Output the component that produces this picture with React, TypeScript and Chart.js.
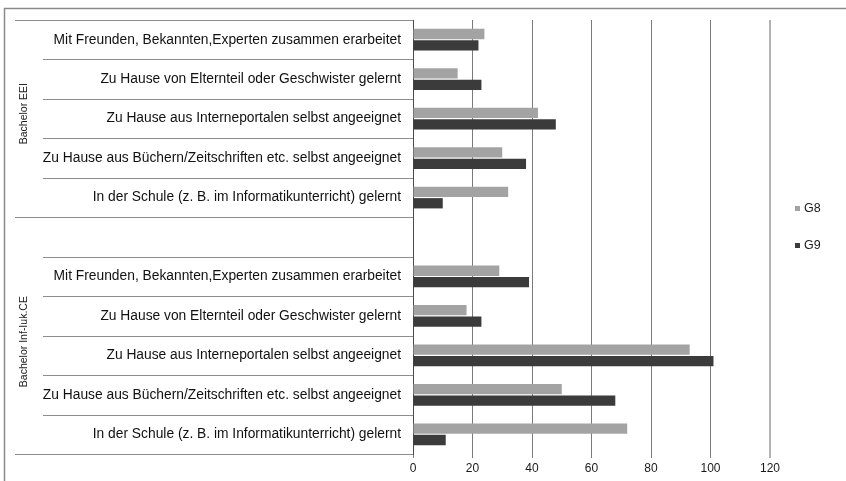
import { useEffect, useRef } from "react";
import { Chart, registerables } from "chart.js";

Chart.register(...registerables);

// Answer categories (same order in both study programmes)
const categories = [
  "Mit Freunden, Bekannten,Experten zusammen erarbeitet",
  "Zu Hause von Elternteil oder Geschwister gelernt",
  "Zu Hause aus Interneportalen selbst angeeignet",
  "Zu Hause aus Büchern/Zeitschriften etc. selbst angeeignet",
  "In der Schule (z. B. im Informatikunterricht) gelernt",
];

const groupNames = ["Bachelor EEI", "Bachelor Inf-Iuk.CE"];
const seriesNames = ["G8", "G9"];

// Counts per category, Bachelor EEI
const g8EEI = [24, 15, 42, 30, 32];
const g9EEI = [22, 23, 48, 38, 10];

// Counts per category, Bachelor Inf-Iuk.CE
const g8Inf = [29, 18, 93, 50, 72];
const g9Inf = [39, 23, 101, 68, 11];

const xTicks = [0, 20, 40, 60, 80, 100, 120];

const seriesColors = ["#a3a3a3", "#3b3b3b"];
const FONT = "'Liberation Sans', Arial, sans-serif";

// Row labels: first group, one spacer row, then the second group
const rowLabels = [...categories, "", ...categories];
const g8Rows = [...g8EEI, null, ...g8Inf];
const g9Rows = [...g9EEI, null, ...g9Inf];

// Row index ranges of the two groups (the spacer row belongs to the second one)
const groupRanges = [
  { name: groupNames[0], from: 0, to: categories.length - 1 },
  { name: groupNames[1], from: categories.length, to: rowLabels.length - 1 },
];

// Outer frame of the figure
const framePlugin = {
  id: "frame",
  beforeDraw(chart: any) {
    const { ctx, width, height } = chart;
    ctx.save();
    ctx.strokeStyle = "#8a8a8a";
    ctx.lineWidth = 1.5;
    ctx.beginPath();
    ctx.moveTo(4.5, height);
    ctx.lineTo(4.5, 8.5);
    ctx.lineTo(width, 8.5);
    ctx.stroke();
    ctx.restore();
  },
};

// Two-level category axis: separator lines and rotated group names
const groupAxisPlugin = {
  id: "groupAxis",
  afterDraw(chart: any, _args: any, opts: any) {
    const { ctx, chartArea } = chart;
    const y = chart.scales.y;
    const step = y.getPixelForValue(1) - y.getPixelForValue(0);
    const edge = (i: number) => y.getPixelForValue(i) - step / 2;
    const axisX = chartArea.left;

    const long = new Set<number>();
    groupRanges.forEach((g) => {
      long.add(g.from);
      long.add(g.to + 1);
    });

    ctx.save();
    ctx.strokeStyle = "#8c8c8c";
    ctx.lineWidth = 1;
    for (let i = 0; i <= rowLabels.length; i++) {
      const py = Math.round(edge(i)) + 0.5;
      const startX = long.has(i) ? opts.groupLineX : opts.tickLineX;
      ctx.beginPath();
      ctx.moveTo(startX, py);
      ctx.lineTo(axisX, py);
      ctx.stroke();
    }

    ctx.fillStyle = "#1a1a1a";
    ctx.font = `${opts.fontSize}px ${FONT}`;
    ctx.textAlign = "center";
    ctx.textBaseline = "middle";
    groupRanges.forEach((g, k) => {
      const cy = (edge(g.from) + edge(g.to + 1)) / 2 + (opts.labelShift[k] || 0);
      ctx.save();
      ctx.translate(opts.groupLabelX, cy);
      ctx.rotate(-Math.PI / 2);
      ctx.fillText(g.name, 0, 0);
      ctx.restore();
    });
    ctx.restore();
  },
};

// Legend to the right of the plot area
const sideLegendPlugin = {
  id: "sideLegend",
  afterDraw(chart: any, _args: any, opts: any) {
    const { ctx, chartArea } = chart;
    const datasets = chart.data.datasets;
    const midY = (chartArea.top + chartArea.bottom) / 2 + opts.offsetY;
    const x = chartArea.right + opts.offsetX;
    const total = (datasets.length - 1) * opts.spacing;
    ctx.save();
    ctx.font = `${opts.fontSize}px ${FONT}`;
    ctx.textAlign = "left";
    ctx.textBaseline = "middle";
    datasets.forEach((ds: any, i: number) => {
      const cy = midY - total / 2 + i * opts.spacing;
      ctx.fillStyle = ds.backgroundColor;
      ctx.fillRect(x, Math.round(cy - opts.box / 2), opts.box, opts.box);
      ctx.fillStyle = "#1a1a1a";
      ctx.fillText(ds.label, x + opts.box + 4, cy + 0.5);
    });
    ctx.restore();
  },
};

export default function App() {
  const canvasRef = useRef<HTMLCanvasElement | null>(null);

  useEffect(() => {
    const canvas = canvasRef.current;
    if (!canvas) return;

    const chart = new Chart(canvas, {
      type: "bar",
      data: {
        labels: rowLabels,
        datasets: [
          {
            label: seriesNames[0],
            data: g8Rows,
            backgroundColor: seriesColors[0],
            categoryPercentage: 0.58,
            barPercentage: 0.9,
          },
          {
            label: seriesNames[1],
            data: g9Rows,
            backgroundColor: seriesColors[1],
            categoryPercentage: 0.58,
            barPercentage: 0.9,
          },
        ],
      },
      options: {
        indexAxis: "y",
        animation: false,
        responsive: true,
        maintainAspectRatio: false,
        events: [],
        layout: { padding: { top: 20, right: 76, bottom: 0, left: 0 } },
        plugins: {
          legend: { display: false },
          tooltip: { enabled: false },
          groupAxis: {
            groupLineX: 15,
            tickLineX: 43,
            groupLabelX: 24,
            fontSize: 10.5,
            labelShift: [-5, 6],
          },
          sideLegend: { offsetX: 25, offsetY: -10.5, spacing: 37, box: 5, fontSize: 12.5 },
        } as any,
        scales: {
          x: {
            type: "linear",
            min: xTicks[0],
            max: xTicks[xTicks.length - 1],
            afterBuildTicks: (s: any) => {
              s.ticks = xTicks.map((v) => ({ value: v }));
            },
            afterFit: (s: any) => {
              s.height = 27;
              s.paddingLeft = 0;
              s.paddingRight = 0;
            },
            ticks: {
              padding: 3,
              color: "#1a1a1a",
              font: { family: FONT, size: 12 },
            },
            grid: {
              color: (c: any) =>
                c.tick && c.tick.value === xTicks[xTicks.length - 1] ? "#b3b3b3" : "#7a7a7a",
              lineWidth: (c: any) =>
                c.tick && c.tick.value === xTicks[xTicks.length - 1] ? 2 : 1,
              drawTicks: true,
              tickLength: 4,
            },
            border: { display: false },
          },
          y: {
            type: "category",
            afterFit: (s: any) => {
              s.width = 413;
              s.paddingTop = 0;
              s.paddingBottom = 0;
            },
            ticks: {
              autoSkip: false,
              padding: 12,
              color: "#111111",
              font: { family: FONT, size: 13.8 },
            },
            grid: { display: false, drawTicks: false },
            border: { display: true, color: "#4a4a4a", width: 1 },
          },
        },
      },
      plugins: [framePlugin, groupAxisPlugin, sideLegendPlugin],
    });

    return () => chart.destroy();
  }, []);

  return (
    <div
      style={{
        position: "fixed",
        left: 0,
        top: 0,
        width: 846,
        height: 481,
        background: "#ffffff",
      }}
    >
      <canvas ref={canvasRef} />
    </div>
  );
}
